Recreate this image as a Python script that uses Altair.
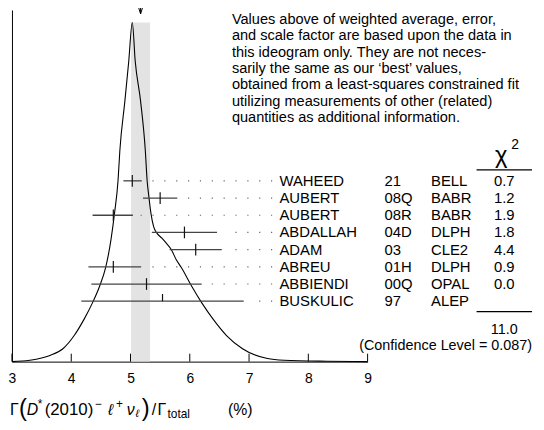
import altair as alt
import pandas as pd

FONT = "Liberation Sans"

# ---- data ----
names = ["WAHEED", "AUBERT", "AUBERT", "ABDALLAH", "ADAM", "ABREU", "ABBIENDI", "BUSKULIC"]
codes = ["21", "08Q", "08R", "04D", "03", "01H", "00Q", "97"]
expts = ["BELL", "BABR", "BABR", "DLPH", "CLE2", "DLPH", "OPAL", "ALEP"]
values = [5.03, 5.50, 4.71, 5.91, 6.10, 4.71, 5.27, 5.54]
err_minus = [0.15, 0.29, 0.35, 0.55, 0.44, 0.42, 0.93, 1.37]
err_plus = [0.16, 0.29, 0.33, 0.55, 0.44, 0.47, 0.93, 1.37]
chi2 = ["0.7", "1.2", "1.9", "1.8", "4.4", "0.9", "0.0", ""]
chi2_total = "11.0"
confidence_level = "0.087"
avg_value = 5.17
avg_error = 0.16
tick_values = [3, 4, 5, 6, 7, 8, 9]

curve_x = [3.00, 3.30, 3.64, 3.86, 4.05, 4.22, 4.36, 4.48, 4.58, 4.67, 4.73, 4.79,
           4.82, 4.905, 4.97, 5.03, 5.08, 5.17, 5.25, 5.28, 5.31, 5.345, 5.39, 5.445,
           5.53, 5.60, 5.69, 5.77, 5.86, 6.03, 6.20, 6.39, 6.62, 6.89, 7.31, 7.59,
           8.31, 9.00]
curve_y = [0.000, 0.004, 0.018, 0.038, 0.077, 0.126, 0.174, 0.223, 0.277, 0.359, 0.437, 0.535,
           0.622, 0.768, 0.885, 1.000, 0.885, 0.768, 0.622, 0.535, 0.486, 0.437, 0.398, 0.379,
           0.364, 0.350, 0.330, 0.301, 0.277, 0.223, 0.174, 0.126, 0.077, 0.038, 0.009, 0.004,
           0.001, 0.000]

paragraph = [
    "Values above of weighted average, error,",
    "and scale factor are based upon the data in",
    "this ideogram only.  They are not neces-",
    "sarily the same as our \u2018best\u2019 values,",
    "obtained from a least-squares constrained fit",
    "utilizing measurements of other (related)",
    "quantities as additional information.",
]

# ---- tables ----
rows = pd.DataFrame({
    "row": list(range(len(names))),
    "name": names, "code": codes, "expt": expts,
    "value": values, "em": err_minus, "ep": err_plus, "chi2": chi2,
})
curve = pd.DataFrame({"cx": curve_x, "cy": curve_y})
avg = pd.DataFrame({"avg": [avg_value], "lo": [avg_value - avg_error], "hi": [avg_value + avg_error]})
ticks = pd.DataFrame({"t": tick_values})
one = pd.DataFrame({"a": [0]})

W, H = 359, 355
xs = alt.Scale(domain=[3, 9], nice=False, zero=False)
xax = alt.Axis(values=tick_values, ticks=False, grid=False, title=None, domainColor="black",
               domainWidth=1, labelFont=FONT, labelFontSize=14, labelColor="black",
               labelPadding=10, labelFlush=False)
yc = alt.Scale(domain=[0, 1.037], nice=False, zero=False)
yax = alt.Axis(ticks=False, labels=False, grid=False, title=None, domainColor="black", domainWidth=1)
yr = alt.Scale(domain=[-9.937, 10.512], nice=False, zero=False, reverse=True)

band = alt.Chart(avg).mark_rect(color="#e3e3e3").encode(
    x=alt.X("lo:Q", scale=xs, axis=xax), x2="hi:Q",
    y=alt.YDatum(0, scale=yc, axis=None), y2=alt.Y2Datum(1.0))

line = alt.Chart(curve).mark_line(interpolate="monotone", color="black", strokeWidth=1.1).encode(
    x=alt.X("cx:Q", scale=xs, axis=xax), y=alt.Y("cy:Q", scale=yc, axis=yax))

tickmarks = alt.Chart(ticks).mark_rule(color="black", strokeWidth=1).encode(
    x=alt.X("t:Q", scale=xs, axis=xax), y=alt.value(H - 8), y2=alt.value(H))

arrow = alt.Chart(avg).mark_point(
    shape="M-0.31,-1L0,0L0.31,-1M0,-1L0,0", size=576, filled=False,
    stroke="black", strokeWidth=1, opacity=1).encode(
    x=alt.X("avg:Q", scale=xs, axis=xax), y=alt.value(4))

bars = alt.Chart(rows).transform_calculate(
    lo="datum.value - datum.em", hi="datum.value + datum.ep").mark_rule(
    color="#444", strokeWidth=1.3).encode(
    x=alt.X("lo:Q", scale=xs, axis=xax), x2="hi:Q", y=alt.Y("row:Q", scale=yr, axis=None))

centers = alt.Chart(rows).transform_calculate(
    r0="datum.chi2 == '' ? datum.row - 0.42 : datum.row - 0.34",
    r1="datum.chi2 == '' ? datum.row : datum.row + 0.34").mark_rule(
    color="#111", strokeWidth=1.2).encode(
    x=alt.X("value:Q", scale=xs, axis=xax), y=alt.Y("r0:Q", scale=yr, axis=None), y2="r1:Q")

leaders = alt.Chart(rows).transform_calculate(
    start="5.17 + 0.2*ceil((datum.value + datum.ep + 0.12 - 5.17)/0.2)", end="7.39").mark_rule(
    color="#666", strokeWidth=1.2, strokeDash=[1.2, 10.77]).encode(
    x=alt.X("start:Q", scale=xs, axis=xax), x2="end:Q", y=alt.Y("row:Q", scale=yr, axis=None))


def col(field, xpos, align="left"):
    return alt.Chart(rows).mark_text(align=align, baseline="middle", x=xpos, font=FONT,
                                     fontSize=15, color="black").encode(
        y=alt.Y("row:Q", scale=yr, axis=None), text=f"{field}:N")


def txt(s, x, y, size=15, style="normal", align="left", baseline="middle", **kw):
    return alt.Chart(one).mark_text(text=s, x=x, y=y, fontSize=size, fontStyle=style, align=align,
                                    baseline=baseline, font=FONT, color="black", **kw)


def hline(x1, x2, y):
    return alt.Chart(one).mark_rule(color="black", strokeWidth=1.2).encode(
        x=alt.value(x1), x2=alt.value(x2), y=alt.value(y))


TY = 403.5
layers = [
    band, line, tickmarks, arrow, leaders, bars, centers,
    col("name", 270), col("code", 376), col("expt", 423), col("chi2", 497, "center"),
    txt("\u03c7", 494, 148, size=24, align="center"),
    txt("2", 504, 136, size=14),
    hline(469, 525, 161.5), hline(469, 525, 304.5),
    txt(chi2_total, 497, 323, size=14.5, align="center"),
    txt(f"(Confidence Level = {confidence_level})", 525, 339, size=14.5, align="right"),
    txt(paragraph, 222, 2, size=14.7, baseline="top", lineHeight=16.5),
    # x-axis title pieces
    txt("\u0393", -2, TY, size=16),
    txt("(", 7, TY - 1, size=24),
    txt("D", 15, TY, size=16, style="italic"),
    txt("*", 26, TY - 6, size=12),
    txt("(2010)", 33, TY, size=17),
    txt("\u2212", 84, TY - 6, size=12),
    txt("\u2113", 97, TY, size=16, style="italic"),
    txt("+", 105, TY - 6, size=12),
    txt("\u03bd", 116, TY, size=16, style="italic"),
    txt("\u2113", 125, TY + 4, size=11, style="italic"),
    txt(")", 131, TY - 1, size=24),
    txt("/", 141, TY, size=16),
    txt("\u0393", 147, TY, size=16),
    txt("total", 157, TY + 4, size=12),
    txt("(%)", 218, TY, size=16),
]

chart = alt.layer(*layers).resolve_scale(y="independent").properties(
    width=W, height=H,
    autosize=alt.AutoSizeParams(type="none"),
    padding={"left": 4, "top": 0, "right": 170, "bottom": 60},
    background="white",
).configure_view(stroke=None)

chart.save("out.html", embed_options={"renderer": "svg", "actions": False})
